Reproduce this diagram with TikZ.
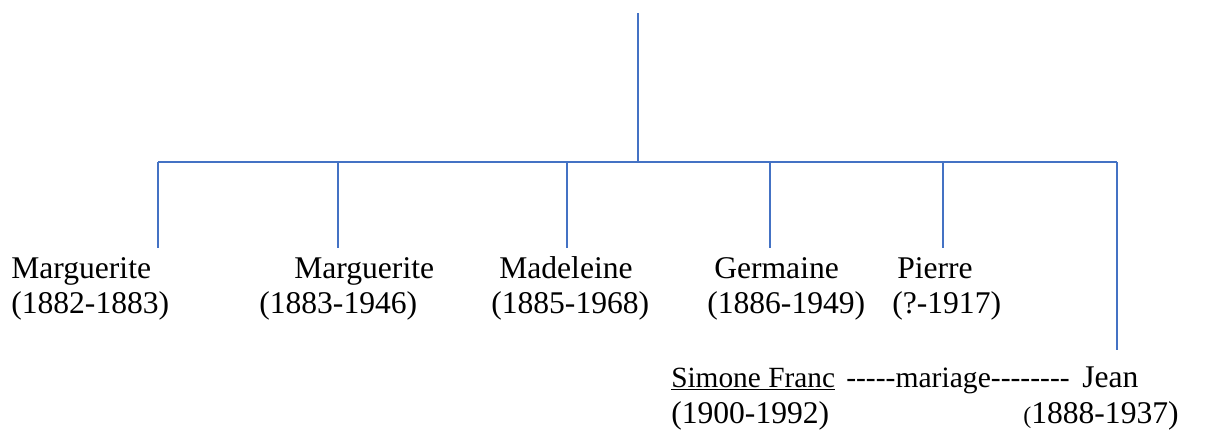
\documentclass[tikz,border=0pt]{standalone}
\usepackage{fontspec}
\setmainfont{Liberation Serif}[Ligatures=TeXOff]
\definecolor{lineblue}{RGB}{68,114,196}
\tikzset{
  branch/.style={draw=lineblue, line width=0.9pt},
  person/.style={anchor=base west, inner sep=0pt, font=\fontsize{23.7}{26}\selectfont},
}

\begin{document}
\begin{tikzpicture}[x=0.75pt,y=0.75pt,yscale=-1,xscale=1]
\useasboundingbox (0,0) rectangle (1217,430);

% Coordinates of the tree
\coordinate (top) at (638,13);
\coordinate (mid) at (638,162);
\coordinate (barL) at (158,162);
\coordinate (barR) at (1117,162);
\coordinate (endA) at (158,248);
\coordinate (endB) at (338,248);
\coordinate (endC) at (567,248);
\coordinate (endD) at (770,248);
\coordinate (endE) at (943,248);
\coordinate (endJ) at (1117,350);

%Straight Lines
\draw [branch] (top) -- (mid);
%Straight Lines
\draw [branch] (barL) -- (barR);
%Straight Lines
\draw [branch] (barL) -- (endA);
\draw [branch] (endB |- mid) -- (endB);
\draw [branch] (endC |- mid) -- (endC);
\draw [branch] (endD |- mid) -- (endD);
\draw [branch] (endE |- mid) -- (endE);
\draw [branch] (barR) -- (endJ);

% Text Node
\node [person] (margA) at (11,278) {Marguerite};
\node [person] (margAd) at (11,313) {(1882-1883)};
% Text Node
\node [person] (margB) at (294,278) {Marguerite};
\node [person] (margBd) at (259,313) {(1883-1946)};
% Text Node
\node [person] (made) at (499,278) {Madeleine};
\node [person] (maded) at (491,313) {(1885-1968)};
% Text Node
\node [person] (germ) at (714,278) {Germaine};
\node [person] (germd) at (707,313) {(1886-1949)};
% Text Node
\node [person] (pier) at (897,278) {Pierre};
\node [person] (pierd) at (892,313) {(?-1917)};
% Text Node
\node [person, font=\fontsize{22}{26}\selectfont] (sim) at (671,387) {\underline{Simone Franc}};
\node [person] (simd) at (671,423) {(1900-1992)};
% Text Node
\node [person, font=\fontsize{22.2}{26}\selectfont] (mar) at (846,387) {-----mariage--------};
% Text Node
\node [person] (jean) at (1082,387) {Jean};
\node [person] (jeand) at (1023,423) {{\fontsize{18}{20}\selectfont(}1888-1937)};

\end{tikzpicture}
\end{document}
